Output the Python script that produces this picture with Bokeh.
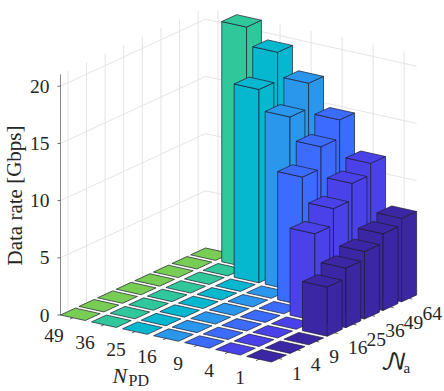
from bokeh.plotting import figure
from bokeh.models import Range1d
from bokeh.core.properties import value
from bokeh.embed import file_html
from bokeh.resources import INLINE

# Chart data
n_pd = ["49", "36", "25", "16", "9", "4", "1"]
n_a = ["1", "4", "9", "16", "25", "36", "49", "64"]
z_ticks = [0, 5, 10, 15, 20]
rate_pd49 = [0, 0, 0, 0, 0, 0, 0, 0]
rate_pd36 = [0, 0, 0, 0, 0, 0, 0, 21.0]
rate_pd25 = [0, 0, 0, 0, 0, 0, 16.9, 19.4]
rate_pd16 = [0, 0, 0, 0, 0, 0, 15.1, 17.3]
rate_pd9 = [0, 0, 0, 0, 0, 11.2, 13.1, 14.7]
rate_pd4 = [0, 0, 0, 0, 7.6, 9.05, 10.5, 11.5]
rate_pd1 = [0, 0, 0, 4.3, 5.2, 5.9, 6.7, 7.3]
rates = [rate_pd49, rate_pd36, rate_pd25, rate_pd16, rate_pd9, rate_pd4, rate_pd1]
row_colors = ["#78CE55", "#30C79B", "#06B7D0", "#2A97EC", "#3C6CFF", "#4B41E8", "#3B27A3"]

# Projection of the 3-D axes box onto the page
O = (60.0, 314.5)
UA = (31.03, 6.91)
UB = (18.6, -8.59)
UZ = 11.44
A0, A1 = 0.6, 7.4
B0, B1 = 0.6, 8.4
ZMAX = 21.03
HW = 0.4


def proj(a, b, z=0.0):
    return (O[0] + UA[0] * (a - A0) + UB[0] * (b - B0),
            O[1] + UA[1] * (a - A0) + UB[1] * (b - B0) - UZ * z)


p = figure(width=444, height=391, output_backend="svg", toolbar_location=None,
           x_range=Range1d(0, 444), y_range=Range1d(391, 0),
           x_axis_location=None, y_axis_location=None, min_border=0)
p.grid.visible = False
p.outline_line_color = None
p.background_fill_color = "white"
p.border_fill_color = "white"

# Walls and grid
gx, gy = [], []
for z in z_ticks:
    pts = [proj(A0, B0, z), proj(A0, B1, z), proj(A1, B1, z)]
    gx.append([q[0] for q in pts])
    gy.append([q[1] for q in pts])
for i in range(len(n_a)):
    s, e = proj(A0, i + 1, 0), proj(A0, i + 1, ZMAX)
    gx.append([s[0], e[0]])
    gy.append([s[1], e[1]])
for i in range(len(n_pd)):
    s, e = proj(i + 1, B1, 0), proj(i + 1, B1, ZMAX)
    gx.append([s[0], e[0]])
    gy.append([s[1], e[1]])
p.multi_line(gx, gy, line_color="#e4e4e4", line_width=1)

# Axis lines and ticks
ax0, ax1 = proj(A0, B0, 0), proj(A0, B0, ZMAX)
p.line([ax0[0], ax1[0]], [ax0[1], ax1[1]], line_color="#8a8a8a", line_width=1)
tx, ty = [], []
for z in z_ticks:
    q = proj(A0, B0, z)
    tx.append([q[0] - 3, q[0]])
    ty.append([q[1], q[1]])
for i in range(len(n_pd)):
    s, e = proj(i + 1, B0, 0), proj(i + 1, B0 - 0.16, 0)
    tx.append([s[0], e[0]])
    ty.append([s[1], e[1]])
for i in range(len(n_a)):
    s, e = proj(A1, i + 1, 0), proj(A1 + 0.1, i + 1, 0)
    tx.append([s[0], e[0]])
    ty.append([s[1], e[1]])
p.multi_line(tx, ty, line_color="#666666", line_width=1)

# Bars, painted back to front
xs, ys, cs = [], [], []
order = sorted(((ia, ib) for ia in range(len(n_pd)) for ib in range(len(n_a))),
               key=lambda t: (t[0] - t[1]))
for ia, ib in order:
    a, b, h = ia + 1, ib + 1, rates[ia][ib]
    faces = []
    if h > 0:
        faces.append([(a - HW, b - HW, 0), (a + HW, b - HW, 0), (a + HW, b - HW, h), (a - HW, b - HW, h)])
        faces.append([(a + HW, b - HW, 0), (a + HW, b + HW, 0), (a + HW, b + HW, h), (a + HW, b - HW, h)])
    faces.append([(a - HW, b - HW, h), (a + HW, b - HW, h), (a + HW, b + HW, h), (a - HW, b + HW, h)])
    for f in faces:
        q = [proj(*v) for v in f]
        xs.append([c[0] for c in q])
        ys.append([c[1] for c in q])
        cs.append(row_colors[ia])
p.patches(xs, ys, fill_color=cs, line_color="#1c1c30", line_alpha=0.7, line_width=1)

serif = value("Liberation Serif")
# z tick labels
zq = [proj(A0, B0, z) for z in z_ticks]
p.text([q[0] - 11 for q in zq], [q[1] for q in zq], text=[str(z) for z in z_ticks],
       text_font=serif, text_font_size="19.5px", text_color="#262626",
       text_align="right", text_baseline="middle")
# N_PD tick labels
pq = [proj(i + 1, B0, 0) for i in range(len(n_pd))]
p.text([q[0] - 19 for q in pq], [q[1] + 18 for q in pq], text=n_pd,
       text_font=serif, text_font_size="19.5px", text_color="#262626",
       text_align="center", text_baseline="middle")
# N_a tick labels
aq = [proj(A1, i + 1, 0) for i in range(len(n_a))]
p.text([q[0] + (18 if len(s) == 1 else 23) for q, s in zip(aq, n_a)], [q[1] + 15 for q in aq],
       text=n_a, text_font=serif, text_font_size="19.5px", text_color="#262626",
       text_align="center", text_baseline="middle")

# Axis titles
p.text([14], [195], text=["Data rate [Gbps]"], angle=[1.5708], text_font=serif,
       text_font_size="21px", text_color="#262626", text_align="center", text_baseline="middle")
p.text([112], [375], text=["N"], text_font=serif, text_font_style="italic", text_font_size="22px",
       text_color="#262626", text_align="left", text_baseline="middle")
p.text([128], [379.5], text=["PD"], text_font=serif, text_font_size="16px",
       text_color="#262626", text_align="left", text_baseline="middle")
p.text([380], [362], text=["\U0001D4A9"], text_font=value("DejaVu Math TeX Gyre"), text_font_size="24px",
       text_color="#262626", text_align="left", text_baseline="middle")
p.text([403], [367], text=["a"], text_font=serif, text_font_size="15px",
       text_color="#262626", text_align="left", text_baseline="middle")

open("out.html", "w").write(file_html(p, INLINE))
